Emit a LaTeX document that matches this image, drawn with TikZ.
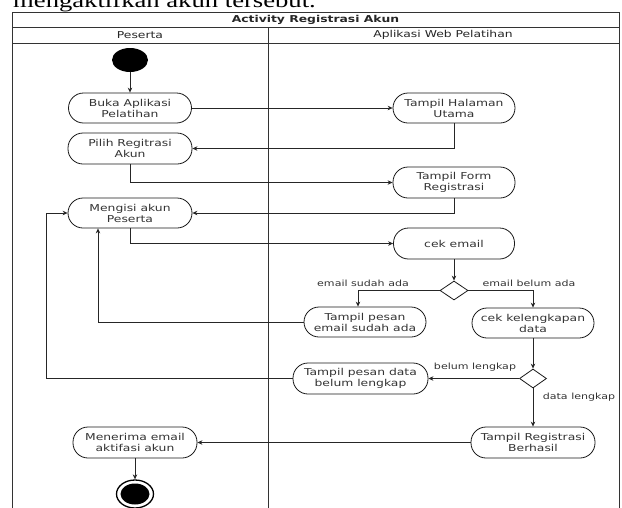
\documentclass[tikz,border=0pt]{standalone}
\usepackage{fontspec}
\newfontfamily\dv[FakeStretch=1.3]{DejaVu Sans}
\newfontfamily\lserif[FakeStretch=1.3]{Liberation Serif}
\usetikzlibrary{arrows.meta,shapes.geometric}
\begin{document}
\begin{tikzpicture}[x=1pt,y=-1pt,
  act/.style={draw=black!90, line width=0.8pt, rounded corners=15pt, minimum width=123pt, minimum height=30pt, inner sep=1pt, align=center, font=\dv\fontsize{9.5}{11}\selectfont, text=black!80},
  dec/.style={draw=black!90, line width=0.8pt, diamond, minimum width=28pt, minimum height=19pt, inner sep=0pt},
  flow/.style={draw=black!85, line width=0.8pt, -{Stealth[length=5pt,width=4.5pt]}},
  lbl/.style={font=\dv\fontsize{8.5}{10}\selectfont, text=black!80, inner sep=0pt},
  hdr/.style={font=\dv\fontsize{9.5}{11}\selectfont, text=black!85, inner sep=0pt},
  frame/.style={draw=black!80, line width=0.8pt}]
\useasboundingbox (0,0) rectangle (622,507);
\clip (0,0) rectangle (622,507);
\fill[white] (0,0) rectangle (622,507);
% caption text cut at top
\node[anchor=base west, inner sep=0pt, font=\lserif\fontsize{20.5}{24}\selectfont] (toptext) at (13,7.5) {mengaktifkan akun tersebut.};
% swimlane frame
\draw[frame] (12,12) rectangle (619,530);
\draw[frame] (12,27) -- (619,27);
\draw[frame] (12,43) -- (619,43);
\draw[frame] (268,27) -- (268,530);
\node[hdr, font=\dv\bfseries\fontsize{9.5}{11}\selectfont] (title) at (315.5,19.5) {Activity Registrasi Akun};
\node[hdr] (lane1) at (140,35) {Peserta};
\node[hdr] (lane2) at (443,35) {Aplikasi Web Pelatihan};
% start
\node[ellipse, fill=black, minimum width=36pt, minimum height=24pt, inner sep=0pt] (start) at (130,60) {};
% Peserta lane
\node[act] (buka) at (130,108) {Buka Aplikasi\\Pelatihan};
\node[act, minimum width=124pt, minimum height=31pt] (pilih) at (130,148.5) {Pilih Regitrasi\\Akun};
\node[act, minimum width=124pt] (mengisi) at (130,213) {Mengisi akun\\Peserta};
\node[act, minimum width=124pt, minimum height=31pt] (menerima) at (135,442.5) {Menerima email\\aktifasi akun};
% end
\node[ellipse, draw=black, line width=1.3pt, minimum width=37pt, minimum height=28pt, inner sep=0pt] (endc) at (135,494) {};
\node[ellipse, fill=black, minimum width=29pt, minimum height=21pt, inner sep=0pt] (endin) at (endc) {};
% Web lane
\node[act, minimum width=122pt] (thu) at (454,108) {Tampil Halaman\\Utama};
\node[act, minimum width=122pt, minimum height=31pt] (tfr) at (454,182.5) {Tampil Form\\Registrasi};
\node[act, minimum width=121pt, minimum height=31pt] (cek) at (454,243.5) {cek email};
\node[dec] (d1) at (454,290.5) {};
\node[act, minimum width=122pt] (tpesa) at (365,322) {Tampil pesan\\email sudah ada};
\node[act, minimum width=122pt] (ckd) at (533,323) {cek kelengkapan\\data};
\node[dec, minimum width=27pt] (d2) at (533,378.5) {};
\node[act, minimum width=135pt, minimum height=31pt] (tpdbl) at (360.5,378.5) {Tampil pesan data\\belum lengkap};
\node[act, minimum width=124pt, minimum height=31pt] (trb) at (533,442.5) {Tampil Registrasi\\Berhasil};
% labels
\node[lbl] (l1) at (363,283) {email sudah ada};
\node[lbl] (l2) at (529,283) {email belum ada};
\node[lbl] (l3) at (475,367) {belum lengkap};
\node[lbl] (l4) at (579,397) {data lengkap};
% connectors
\coordinate (c1) at (46,213);
\draw[flow] (start) -- (buka);
\draw[flow] (buka) -- (thu);
\draw[flow] (thu.south) |- (pilih.east);
\draw[flow] (pilih.south) |- (tfr.west);
\draw[flow] (tfr.south) |- (mengisi.east);
\draw[flow] (mengisi.south) |- (cek.west);
\draw[flow] (cek) -- (d1);
\draw[flow] (d1.west) -| ([xshift=-7pt]tpesa.north);
\draw[flow] (d1.east) -| (ckd.north);
\draw[flow] (tpesa.west) -| ([xshift=-32pt]mengisi.south);
\draw[flow] (ckd) -- (d2);
\draw[flow] (d2) -- (tpdbl);
\draw[flow] (tpdbl.west) -| (c1) -- (mengisi.west);
\draw[flow] (d2) -- (trb);
\draw[flow] (trb) -- (menerima);
\draw[flow] (menerima) -- (endc);
\end{tikzpicture}
\end{document}
